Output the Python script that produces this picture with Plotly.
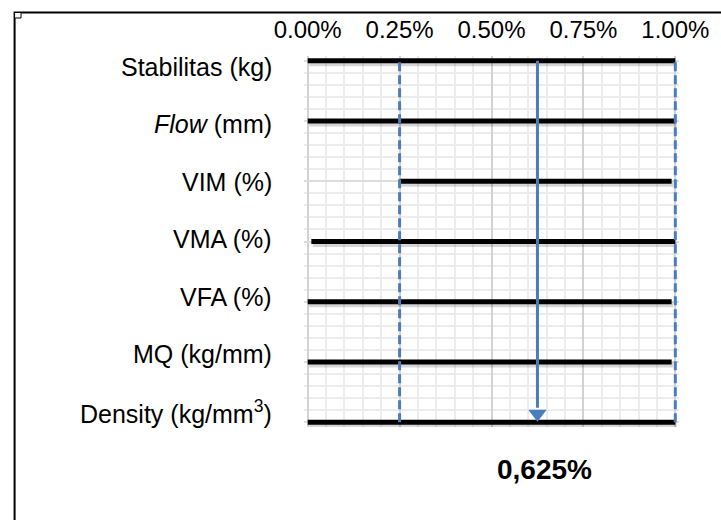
import plotly.graph_objects as go

# ---- data ----
categories = ["Stabilitas (kg)", "<i>Flow</i> (mm)", "VIM (%)", "VMA (%)",
              "VFA (%)", "MQ (kg/mm)", "Density (kg/mm<sup>3</sup>)"]
range_start = [0.00, 0.00, 0.25, 0.01, 0.00, 0.00, 0.00]
range_end = [1.00, 1.00, 0.99, 1.00, 0.99, 0.99, 1.00]
limit_low = 0.25
limit_high = 1.00
optimum = 0.625
tick_values = [0.00, 0.25, 0.50, 0.75, 1.00]
tick_labels = [f"{v:.2f}%" for v in tick_values]

# ---- layout constants ----
W, H = 721, 520
ML, MR, MT, MB = 304, 38, 56, 93
PW, PH = W - ML - MR, H - MT - MB
ROW_STEP = 5
n = len(categories)
row_y = [(n - 1 - i) * ROW_STEP for i in range(n)]
y_top = max(row_y)
y_bot = min(row_y)
BLUE = "#4a7ebb"
FONT = "Liberation Sans, Arial, sans-serif"


def px_x(p):
    return (p - ML) / PW


def px_y(p):
    return (H - MB - p) / PH


fig = go.Figure()

# shadows of range bars
for i in range(n):
    fig.add_trace(go.Scatter(
        x=[range_start[i] + 0.004, range_end[i] + 0.004],
        y=[row_y[i] - 0.25, row_y[i] - 0.25],
        mode="lines", line=dict(color="rgba(0,0,0,0.16)", width=5),
        hoverinfo="skip", showlegend=False))

# range bars
for i in range(n):
    fig.add_trace(go.Scatter(
        x=[range_start[i], range_end[i]], y=[row_y[i], row_y[i]],
        mode="lines", line=dict(color="black", width=5),
        name=categories[i], showlegend=False))

# dashed limit lines
for lim in (limit_low, limit_high):
    fig.add_trace(go.Scatter(
        x=[lim, lim], y=[y_bot, y_top], mode="lines",
        line=dict(color=BLUE, width=3, dash="9px,4px"),
        hoverinfo="skip", showlegend=False))

# optimum arrow
fig.add_trace(go.Scatter(
    x=[optimum, optimum], y=[y_top, y_bot + 1.2], mode="lines",
    line=dict(color=BLUE, width=3), hoverinfo="skip", showlegend=False))
fig.add_trace(go.Scatter(
    x=[optimum], y=[y_bot + 0.69], mode="markers",
    marker=dict(symbol="triangle-down", size=16, color=BLUE),
    hoverinfo="skip", showlegend=False, cliponaxis=False))

# category labels
label_top, label_bot = 29.5, 0.85
annotations = []
for i, cat in enumerate(categories):
    yy = label_top - i * (label_top - label_bot) / (n - 1)
    annotations.append(dict(
        x=px_x(274), xref="paper", y=yy, yref="y",
        text=cat, showarrow=False, xanchor="right", yanchor="middle",
        font=dict(family=FONT, size=25, color="black")))

annotations.append(dict(
    x=optimum, xref="x", y=px_y(470), yref="paper", xshift=7,
    text="<b>" + f"{optimum:.3f}".replace(".", ",") + "%</b>",
    showarrow=False, xanchor="center", yanchor="middle",
    font=dict(family=FONT, size=28, color="black")))

shapes = [
    dict(type="rect", xref="paper", yref="paper",
         x0=px_x(11.5), x1=1.3, y0=-0.5, y1=px_y(12.5),
         line=dict(color="black", width=2), fillcolor="rgba(0,0,0,0)", layer="above"),
    dict(type="rect", xref="paper", yref="paper",
         x0=px_x(11.5), x1=px_x(18), y0=px_y(18), y1=px_y(12.5),
         line=dict(color="black", width=1), fillcolor="white", layer="above"),
]

fig.update_layout(
    width=W, height=H,
    margin=dict(l=ML, r=MR, t=MT, b=MB, pad=0),
    paper_bgcolor="white", plot_bgcolor="white",
    showlegend=False,
    annotations=annotations, shapes=shapes,
    xaxis=dict(
        side="top", range=[-0.01, 1.01],
        tickmode="array", tickvals=tick_values, ticktext=tick_labels,
        ticks="outside", ticklen=7, tickcolor="rgba(0,0,0,0)",
        tickfont=dict(family=FONT, size=24, color="black"),
        showgrid=True, gridcolor="#d2d2d2", gridwidth=1.5,
        minor=dict(tick0=0, dtick=0.05, showgrid=True, gridcolor="#ececec", gridwidth=1.5),
        zeroline=False, showline=False, fixedrange=True),
    yaxis=dict(
        range=[-0.4, 30.4], showticklabels=False, ticks="",
        tick0=0, dtick=ROW_STEP,
        showgrid=True, gridcolor="#dcdcdc", gridwidth=1.5,
        minor=dict(tick0=0, dtick=1, showgrid=True, gridcolor="#ececec", gridwidth=1.5),
        zeroline=False, showline=False, fixedrange=True),
)

fig.write_html("out.html", config={"displayModeBar": False},
               post_script="document.body.style.margin='0';document.body.style.overflow='hidden';")
